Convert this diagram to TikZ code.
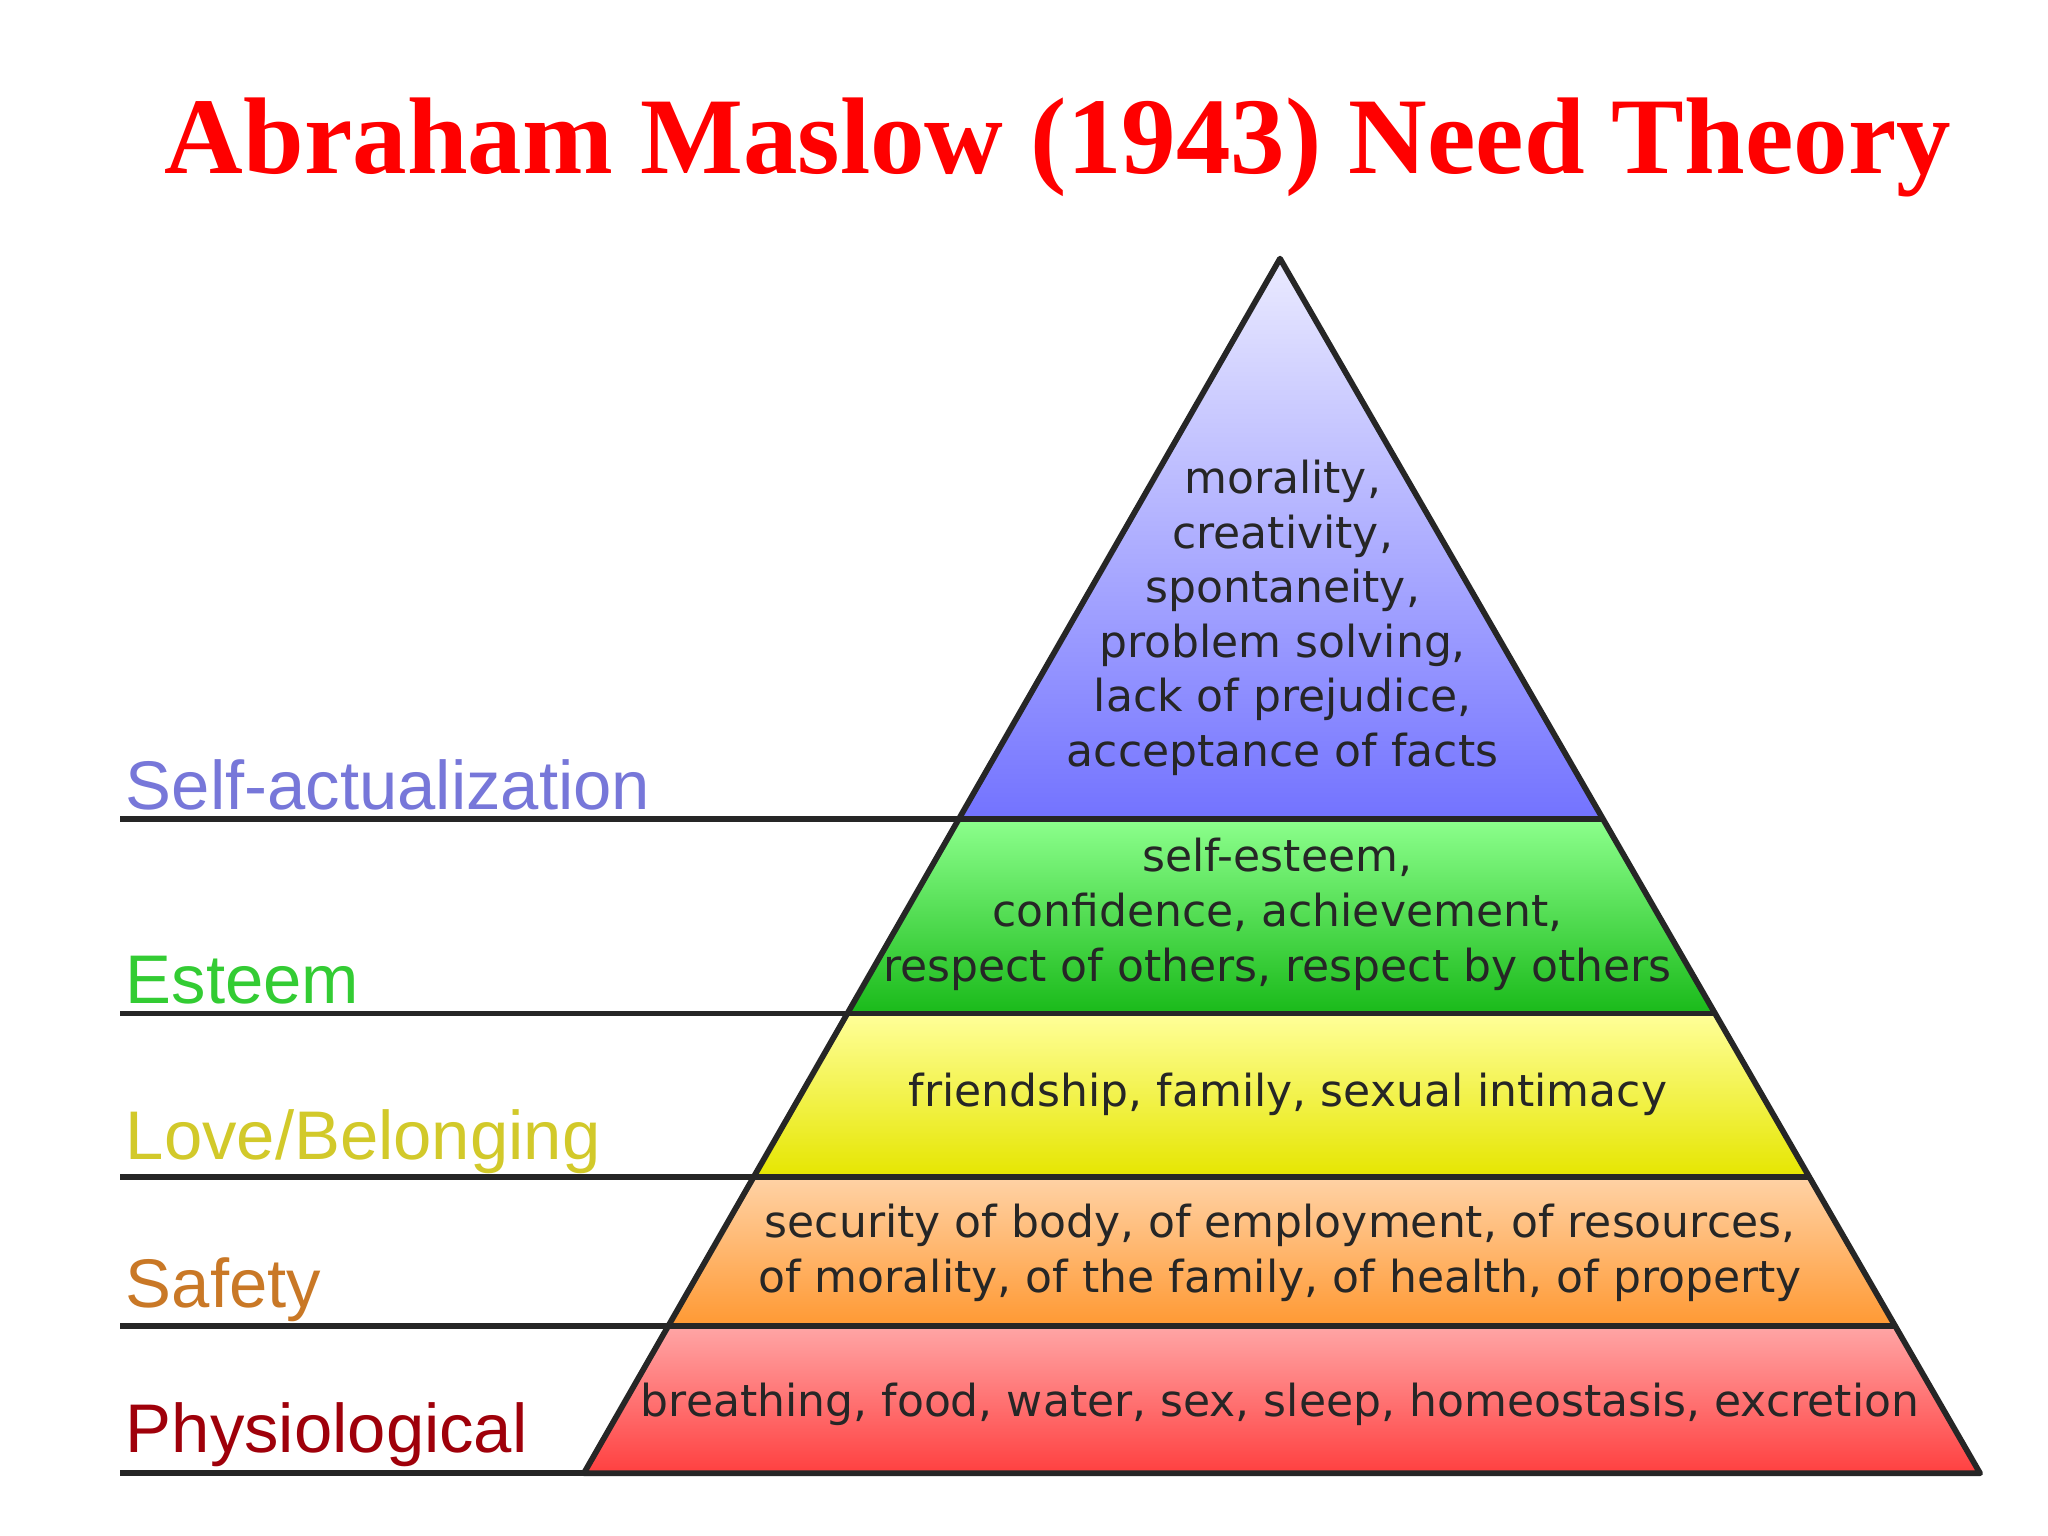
\documentclass[tikz,border=0pt]{standalone}
\usepackage{fontspec}
\setmainfont{DejaVu Sans}
\newfontfamily\titlefont{Liberation Serif}
\newfontfamily\labfont{Liberation Sans}
\begin{document}
\begin{tikzpicture}[x=0.02cm,y=-0.02cm,
  band/.style={draw=black!85,line width=2.5pt,line join=round},
  lvl/.style={draw=black!85,line width=2.5pt},
  inner/.style={font=\fontsize{19.2}{23.8}\selectfont,align=center,text=black!85,inner sep=0pt},
  lab/.style={font=\labfont\fontsize{30}{34}\selectfont,anchor=base west,inner sep=0pt}]
\useasboundingbox (0,0) rectangle (1568,1176);
\fill[white] (0,0) rectangle (1568,1176);
\node[font=\titlefont\bfseries\fontsize{47.5}{54}\selectfont,text=red,anchor=base] (title) at (810,133) {Abraham Maslow (1943) Need Theory};
% bands
\shade[top color=red!35!white,bottom color=red!75!white] (512,1015) -- (1451,1015) -- (1516,1128) -- (447,1128) -- cycle;
\shade[top color=orange!35!white,bottom color=orange!80!white] (577,901) -- (1385,901) -- (1451,1015) -- (512,1015) -- cycle;
\shade[top color=yellow!40!white,bottom color=yellow!90!black] (649,776) -- (1313,776) -- (1385,901) -- (577,901) -- cycle;
\shade[top color=green!45!white,bottom color=green!70!black!90] (734,627) -- (1227,627) -- (1313,776) -- (649,776) -- cycle;
\shade[top color=blue!8!white,bottom color=blue!55!white] (980,198) -- (1227,627) -- (734,627) -- cycle;
\coordinate (apex) at (980,198);
\coordinate (bl) at (447,1128);
\coordinate (br) at (1516,1128);
\draw[band] (apex) -- (br) -- (bl) -- cycle;
\coordinate (l1) at (92,627); \coordinate (e1) at (1227,627);
\coordinate (l2) at (92,776); \coordinate (e2) at (1313,776);
\coordinate (l3) at (92,901); \coordinate (e3) at (1385,901);
\coordinate (l4) at (92,1015); \coordinate (e4) at (1451,1015);
\coordinate (l5) at (92,1128);
\draw[lvl] (l1) -- (e1); \draw[lvl] (l2) -- (e2); \draw[lvl] (l3) -- (e3); \draw[lvl] (l4) -- (e4); \draw[lvl] (l5) -- (bl);
% inner texts
\node[inner] (t1) at (982,473) {morality,\\creativity,\\spontaneity,\\problem solving,\\lack of prejudice,\\acceptance of facts};
\node[inner] (t2) at (978,700) {self-esteem,\\confidence, achievement,\\respect of others, respect by others};
\node[inner] (t3) at (986,838) {friendship, family, sexual intimacy};
\node[inner] (t4) at (980,959) {security of body, of employment, of resources,\\of morality, of the family, of health, of property};
\node[inner] (t5) at (980,1075) {breathing, food, water, sex, sleep, homeostasis, excretion};
% labels
\node[lab,text=blue!45!white!85!black] (s1) at (96,620) {Self-actualization};
\node[lab,text=green!75!black!80] (s2) at (96,768) {Esteem};
\node[lab,text=yellow!80!black] (s3) at (96,888) {Love/Belonging};
\node[lab,text=orange!75!black!85] (s4) at (96,1001) {Safety};
\node[lab,text=red!60!black!85!purple] (s5) at (96,1112) {Physiological};
\end{tikzpicture}
\end{document}
